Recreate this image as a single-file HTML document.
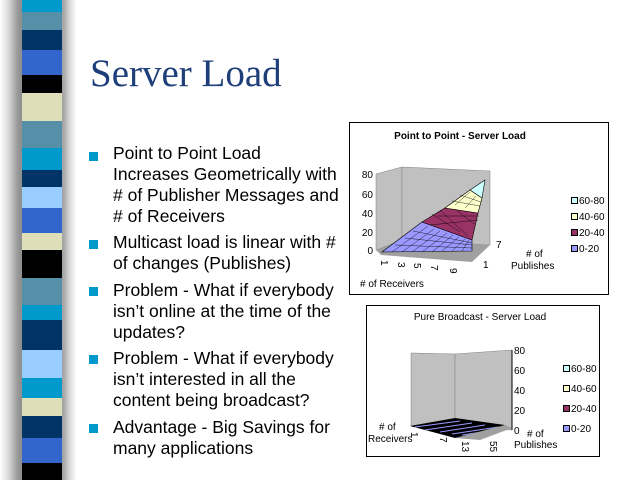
<!DOCTYPE html>
<html><head><meta charset="utf-8"><style>
body{margin:0;width:640px;height:480px;overflow:hidden;background:#fff;position:relative;font-family:"Liberation Sans",sans-serif}
.l{position:absolute;left:113px;font-size:17.5px;color:#000;white-space:nowrap;line-height:20px}
.b{position:absolute;left:89px;width:9px;height:9px;background:#0099cc}
</style></head><body>
<div style="position:absolute;left:0;top:0;width:80px;height:480px;background:linear-gradient(90deg,#fff 0%,#ddd 10%,#999 22%,#888 30%,#888 72%,#aaa 80%,#ddd 88%,#fff 96%)"></div>
<div style="position:absolute;left:22px;top:0;width:40px;height:480px;background:linear-gradient(180deg,#0099cc 0 12px,#5590a8 12px 30px,#003366 30px 50px,#3366cc 50px 75px,#000 75px 93px,#dedfb8 93px 121px,#5590a8 121px 148px,#0099cc 148px 170px,#003366 170px 187px,#99ccff 187px 208px,#3366cc 208px 233px,#dedfb8 233px 250px,#000 250px 278px,#5590a8 278px 305px,#0099cc 305px 320px,#003366 320px 350px,#99ccff 350px 378px,#0099cc 378px 398px,#dedfb8 398px 416px,#003366 416px 438px,#3366cc 438px 463px,#000 463px 480px)"></div>
<div style="position:absolute;left:90px;top:52px;font-family:'Liberation Serif',serif;font-size:39px;color:#1f3f7a;line-height:44px">Server Load</div>
<div class="b" style="top:152px"></div>
<div class="l" style="top:143px">Point to Point Load</div>
<div class="l" style="top:164px">Increases Geometrically with</div>
<div class="l" style="top:185px"># of Publisher Messages and</div>
<div class="l" style="top:206px"># of Receivers</div>
<div class="b" style="top:240px"></div>
<div class="l" style="top:232px">Multicast load is linear with #</div>
<div class="l" style="top:253px">of changes (Publishes)</div>
<div class="b" style="top:287px"></div>
<div class="l" style="top:280px">Problem - What if everybody</div>
<div class="l" style="top:301px">isn’t online at the time of the</div>
<div class="l" style="top:322px">updates?</div>
<div class="b" style="top:355px"></div>
<div class="l" style="top:348px">Problem - What if everybody</div>
<div class="l" style="top:369px">isn’t interested in all the</div>
<div class="l" style="top:390px">content being broadcast?</div>
<div class="b" style="top:424px"></div>
<div class="l" style="top:417px">Advantage - Big Savings for</div>
<div class="l" style="top:438px">many applications</div>

<svg style="position:absolute;left:0;top:0" width="640" height="480">
<rect x="349.5" y="122.5" width="259" height="172" fill="#fff" stroke="#000"/>
<polygon points="376,174 402,167 402,240 376,250" fill="#c0c0c0" stroke="#808080" stroke-width=".5"/>
<polygon points="402,167 490,171 490,245 402,240" fill="#c0c0c0" stroke="#808080" stroke-width=".5"/>
<polygon points="376,250 402,240 490,245 472,262 381,255" fill="#a0a0a0"/>
<polygon points="382,252 472,251 472,240 422,222" fill="#9999ff" stroke="#000" stroke-width=".6"/>
<polygon points="422,222 472,240 478,213 445,208" fill="#993366" stroke="#000" stroke-width=".6"/>
<polygon points="445,208 478,213 482,198 470,190" fill="#ffffcc" stroke="#000" stroke-width=".6"/>
<polygon points="470,190 482,198 485,180" fill="#ccffff" stroke="#000" stroke-width=".6"/>
<g stroke="#000" stroke-width=".4" fill="none">
<path d="M392,252 L428,226 M402,252 L434,229 M412,252 L440,231 M422,252 L447,233 M432,252 L453,235 M442,251 L459,237 M452,251 L465,239 M462,251 L469,240"/>
<path d="M395,245 L472,248 M405,238 L472,245 M413,231 L472,243"/>
<path d="M430,225 L478,220 M438,216 L479,216 M432,214 L460,232 M440,210 L468,236 M455,209 L474,224"/>
<path d="M452,201 L480,206 M460,195 L481,202 M455,205 L470,192 M465,208 L476,196"/>
</g>
<text x="460" y="139" font-size="10" font-weight="bold" text-anchor="middle" font-family="Liberation Sans">Point to Point - Server Load</text>
<g font-size="10" font-family="Liberation Sans" text-anchor="end">
<text x="373" y="178">80</text><text x="373" y="198">60</text><text x="373" y="217">40</text><text x="373" y="236">20</text><text x="373" y="254">0</text></g>
<g font-size="10" font-family="Liberation Sans">
<text x="496" y="248">7</text><text x="483" y="268">1</text><text x="526" y="257"># of</text><text x="511" y="269">Publishes</text><text x="360" y="287"># of Receivers</text>
<text x="381" y="260" transform="rotate(90 381 260)">1</text><text x="398" y="262" transform="rotate(90 398 262)">3</text><text x="414" y="263" transform="rotate(90 414 263)">5</text><text x="431" y="265" transform="rotate(90 431 265)">7</text><text x="450" y="268" transform="rotate(90 450 268)">9</text>
<rect x="571.5" y="197.5" width="6" height="6" fill="#ccffff" stroke="#000"/><text x="579" y="204">60-80</text>
<rect x="571.5" y="213.5" width="6" height="6" fill="#ffffcc" stroke="#000"/><text x="579" y="220">40-60</text>
<rect x="571.5" y="229.5" width="6" height="6" fill="#993366" stroke="#000"/><text x="579" y="236">20-40</text>
<rect x="571.5" y="245.5" width="6" height="6" fill="#9999ff" stroke="#000"/><text x="579" y="252">0-20</text>
</g>

<rect x="366.5" y="305.5" width="233" height="151" fill="#fff" stroke="#000"/>
<polygon points="411,353 455,354 455,428 411,426" fill="#c0c0c0" stroke="#808080" stroke-width=".5"/>
<polygon points="455,354 512,350 512,430 455,428" fill="#c0c0c0" stroke="#808080" stroke-width=".5"/>
<polygon points="410,426 455,418 505,425 470,436 455,438" fill="#000"/>
<g stroke="#9999ff" stroke-width="1"><path d="M415,427 L460,421 M425,430 L472,423 M440,432 L485,425 M452,434 L498,427 M462,435 L502,429"/></g>
<polygon points="455,438 505,425 512,428 480,440" fill="#a0a0a0"/>
<line x1="512" y1="350" x2="512" y2="430" stroke="#000"/>
<text x="480" y="320" font-size="10" text-anchor="middle" font-family="Liberation Sans">Pure Broadcast - Server Load</text>
<g font-size="10" font-family="Liberation Sans">
<text x="514" y="354">80</text><text x="514" y="374">60</text><text x="514" y="394">40</text><text x="514" y="414">20</text><text x="514" y="434">0</text>
<text x="379" y="430"># of</text><text x="368" y="442">Receivers</text><text x="527" y="437"># of</text><text x="514" y="448">Publishes</text>
<text x="411" y="432" transform="rotate(90 411 432)">1</text><text x="440" y="437" transform="rotate(90 440 437)">7</text><text x="462" y="441" transform="rotate(90 462 441)">13</text><text x="490" y="441" transform="rotate(90 490 441)">55</text>
<rect x="563.5" y="365.5" width="6" height="6" fill="#ccffff" stroke="#000"/><text x="571" y="372">60-80</text>
<rect x="563.5" y="385.5" width="6" height="6" fill="#ffffcc" stroke="#000"/><text x="571" y="392">40-60</text>
<rect x="563.5" y="405.5" width="6" height="6" fill="#993366" stroke="#000"/><text x="571" y="412">20-40</text>
<rect x="563.5" y="425.5" width="6" height="6" fill="#9999ff" stroke="#000"/><text x="571" y="432">0-20</text>
</g>
</svg>
</body></html>
